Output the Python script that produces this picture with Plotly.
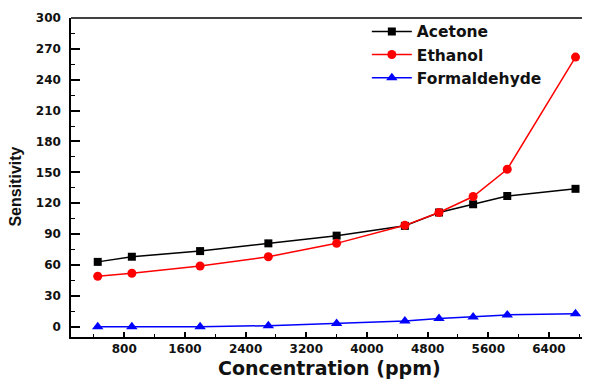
import plotly.graph_objects as go

concentration = [450, 900, 1800, 2700, 3600, 4500, 4950, 5400, 5850, 6750]
acetone = [63, 68, 73.5, 81, 88.5, 98, 111, 119, 127, 134]
ethanol = [49, 52, 59, 68, 81, 98.5, 111, 126.5, 153, 262]
formaldehyde = [0, 0, 0, 1, 3, 5.5, 8, 9.5, 11.5, 12.5]

x_ticks = [800, 1600, 2400, 3200, 4000, 4800, 5600, 6400]
y_ticks = [0, 30, 60, 90, 120, 150, 180, 210, 240, 270, 300]

FONT = "DejaVu Sans, Verdana, sans-serif"
ARIAL = "Liberation Sans, Arial, sans-serif"

fig = go.Figure()
fig.add_trace(go.Scatter(x=concentration, y=acetone, name="Acetone", mode="lines+markers",
                         line=dict(color="black", width=1.5),
                         marker=dict(symbol="square", size=8, color="black")))
fig.add_trace(go.Scatter(x=concentration, y=ethanol, name="Ethanol", mode="lines+markers",
                         line=dict(color="red", width=1.5),
                         marker=dict(symbol="circle", size=9, color="red")))
fig.add_trace(go.Scatter(x=concentration, y=formaldehyde, name="Formaldehyde", mode="lines+markers",
                         line=dict(color="blue", width=1.5),
                         marker=dict(symbol="triangle-up", size=10, color="blue")))

fig.update_layout(
    width=582, height=373,
    margin=dict(l=63, r=0, t=10, b=44),
    paper_bgcolor="white", plot_bgcolor="white",
    font=dict(family=FONT, color="#111"),
    showlegend=True,
    legend=dict(x=0.57, y=1.01, xanchor="left", yanchor="top",
                bgcolor="rgba(0,0,0,0)",
                font=dict(size=15.5, family=FONT, weight="bold"),
                tracegroupgap=0, itemwidth=40),
    xaxis=dict(range=[97.6, 6941], tickvals=x_ticks, ticktext=[str(v) for v in x_ticks],
               ticks="inside", ticklen=5, tickwidth=1.5, tickcolor="black",
               minor=dict(dtick=400, tick0=0, ticks="inside", ticklen=3, tickwidth=1.2, tickcolor="black"),
               showline=True, linecolor="black", linewidth=1.5, mirror=False,
               showgrid=False, zeroline=False, automargin=False,
               tickfont=dict(size=12, weight="bold", family=FONT)),
    yaxis=dict(range=[-10, 300], tickvals=y_ticks, ticktext=[str(v) for v in y_ticks],
               ticks="inside", ticklen=9, tickwidth=1.5, tickcolor="black",
               minor=dict(dtick=15, tick0=0, ticks="inside", ticklen=4, tickwidth=1.2, tickcolor="black"),
               showline=True, linecolor="black", linewidth=1.5,
               showgrid=False, zeroline=False, ticklabelstandoff=6, automargin=False,
               tickfont=dict(size=12, weight="bold", family=FONT)),
    annotations=[
        dict(text="Concentration (ppm)", xref="paper", yref="paper", x=0.499, y=0,
             xanchor="center", yanchor="middle", yshift=-31, showarrow=False,
             font=dict(size=19, weight="bold", family=FONT, color="#111")),
        dict(text="Sensitivity", xref="paper", yref="paper", x=0, y=0.47,
             xanchor="center", yanchor="middle", xshift=-55.5, textangle=-90, showarrow=False,
             font=dict(size=16, weight="bold", family=ARIAL, color="#111")),
    ],
)
# top border line
fig.add_shape(type="line", xref="paper", yref="paper", x0=0, x1=1, y0=1, y1=1,
              line=dict(color="black", width=1.5))

fig.write_html("out.html")
